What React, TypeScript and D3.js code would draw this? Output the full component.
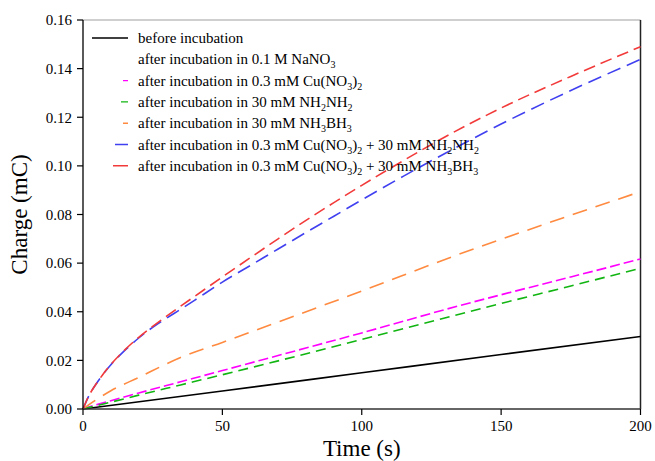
import React from "react";
import * as d3 from "d3";

const W = 655;
const H = 461;
const margin = { left: 83, right: 14, top: 20, bottom: 52 };

const xTicks = [0, 50, 100, 150, 200];
const yTicks = [0, 0.02, 0.04, 0.06, 0.08, 0.1, 0.12, 0.14, 0.16];

const tBlack = [0, 50, 100, 150, 200];
const vBlack = [0, 0.0074, 0.0149, 0.0224, 0.0298];

const tPink = [0, 2, 5, 10, 20, 35, 50, 70, 100, 135, 150, 175, 200];
const vPink = [0, 0.0008, 0.0018, 0.0034, 0.0066, 0.0112, 0.0158, 0.022, 0.0313, 0.0425, 0.047, 0.0543, 0.0617];

const tGreen = [0, 2, 5, 10, 20, 35, 50, 70, 100, 135, 150, 175, 200];
const vGreen = [0, 0.0006, 0.0014, 0.0028, 0.0057, 0.0099, 0.0141, 0.0198, 0.0286, 0.039, 0.0434, 0.0506, 0.0579];

const tOrange = [0, 2, 5, 10, 20, 35, 50, 70, 100, 135, 150, 175, 200];
const vOrange = [0, 0.0017, 0.004, 0.0075, 0.013, 0.0212, 0.0274, 0.0358, 0.0485, 0.0637, 0.0698, 0.0797, 0.0894];

const tBlue = [0, 2, 5, 7, 10, 15, 20, 25, 30, 35, 40, 50, 60, 70, 80, 90, 100, 115, 130, 150, 175, 200];
const vBlue = [0, 0.0052, 0.0108, 0.014, 0.0182, 0.0241, 0.0292, 0.0336, 0.0374, 0.041, 0.0447, 0.0522, 0.059, 0.0658, 0.0726, 0.0793, 0.086, 0.0958, 0.1052, 0.1172, 0.131, 0.1438];

const tRed = [0, 2, 5, 7, 10, 15, 20, 25, 30, 35, 40, 50, 60, 70, 80, 90, 100, 115, 130, 150, 175, 200];
const vRed = [0, 0.0052, 0.0108, 0.014, 0.0183, 0.0243, 0.0295, 0.034, 0.0382, 0.0423, 0.0463, 0.0543, 0.0622, 0.07, 0.0776, 0.0849, 0.092, 0.1022, 0.112, 0.1238, 0.1368, 0.149];

type Seg = { text: string; sub?: boolean };

const series = [
  { t: tBlack, v: vBlack, color: "#000000", dash: "none", sample: 36, label: [{ text: "before incubation" }] as Seg[] },
  { t: [] as number[], v: [] as number[], color: "none", dash: "none", sample: 0, label: [{ text: "after incubation in 0.1 M NaNO" }, { text: "3", sub: true }] as Seg[] },
  { t: tPink, v: vPink, color: "#ff00ff", dash: "10,4", sample: 5, label: [{ text: "after incubation in 0.3 mM Cu(NO" }, { text: "3", sub: true }, { text: ")" }, { text: "2", sub: true }] as Seg[] },
  { t: tGreen, v: vGreen, color: "#11b511", dash: "10,6", sample: 7, label: [{ text: "after incubation in 30 mM NH" }, { text: "2", sub: true }, { text: "NH" }, { text: "2", sub: true }] as Seg[] },
  { t: tOrange, v: vOrange, color: "#ff8a40", dash: "15,9", sample: 5, label: [{ text: "after incubation in 30 mM NH" }, { text: "3", sub: true }, { text: "BH" }, { text: "3", sub: true }] as Seg[] },
  { t: tBlue, v: vBlue, color: "#4040f0", dash: "14,7", sample: 13, label: [{ text: "after incubation in 0.3 mM Cu(NO" }, { text: "3", sub: true }, { text: ")" }, { text: "2", sub: true }, { text: " + 30 mM NH" }, { text: "2", sub: true }, { text: "NH" }, { text: "2", sub: true }] as Seg[] },
  { t: tRed, v: vRed, color: "#f23a3a", dash: "12,6", sample: 15, label: [{ text: "after incubation in 0.3 mM Cu(NO" }, { text: "3", sub: true }, { text: ")" }, { text: "2", sub: true }, { text: " + 30 mM NH" }, { text: "3", sub: true }, { text: "BH" }, { text: "3", sub: true }] as Seg[] },
];

const FONT = "Liberation Serif";

export default function App() {
  const x = d3.scaleLinear().domain([0, 200]).range([margin.left, W - margin.right - 0.5]);
  const y = d3.scaleLinear().domain([0, 0.16]).range([H - margin.bottom, margin.top]);
  const line = d3
    .line<[number, number]>()
    .x((d) => x(d[0]))
    .y((d) => y(d[1]))
    .curve(d3.curveMonotoneX);

  const x0 = x(0);
  const x1 = x(200);
  const y0 = y(0);
  const y1 = y(0.16);

  const legX0 = 92;
  const legX1 = 128;
  const legTextX = 138;
  const legY0 = 38;
  const legDy = 21.3;

  return (
    <svg width={W} height={H} style={{ position: "absolute", left: 0, top: 0 }}>
      <rect x={0} y={0} width={W} height={H} fill="#fff" />
      <line x1={x0} x2={x1} y1={y1} y2={y1} stroke="#a0a0a0" strokeWidth={1.2} />
      <line x1={x1} x2={x1} y1={y1} y2={y0} stroke="#222" strokeWidth={1.5} />

      {series.map((s, i) =>
        s.t.length ? (
          <path
            key={i}
            d={line(s.t.map((t, j) => [t, s.v[j]] as [number, number])) || ""}
            fill="none"
            stroke={s.color}
            strokeWidth={1.6}
            strokeDasharray={s.dash}
          />
        ) : null
      )}

      <line x1={x0} x2={x0} y1={y1} y2={y0} stroke="#000" strokeWidth={1.3} />
      <line x1={x0} x2={x1} y1={y0} y2={y0} stroke="#333" strokeWidth={1.5} />
      {yTicks.map((t) => (
        <g key={t}>
          <line x1={x0 - 6} x2={x0} y1={y(t)} y2={y(t)} stroke="#000" strokeWidth={1.2} />
          <text x={x0 - 11} y={y(t)} dy="0.35em" textAnchor="end" fontFamily={FONT} fontSize={15}>
            {d3.format(".2f")(t)}
          </text>
        </g>
      ))}
      {xTicks.map((t) => (
        <g key={t}>
          <line x1={x(t)} x2={x(t)} y1={y0} y2={y0 + 6} stroke="#000" strokeWidth={1.2} />
          <text x={x(t)} y={y0 + 22} textAnchor="middle" fontFamily={FONT} fontSize={15}>
            {t}
          </text>
        </g>
      ))}
      <text x={(x0 + x1) / 2} y={H - 5} textAnchor="middle" fontFamily={FONT} fontSize={23}>
        Time (s)
      </text>
      <text
        transform={`translate(27, ${(y0 + y1) / 2}) rotate(-90)`}
        textAnchor="middle"
        fontFamily={FONT}
        fontSize={23}
      >
        Charge (mC)
      </text>

      {series.map((s, i) => {
        const cy = legY0 + i * legDy;
        const L = legX1 - legX0;
        return (
          <g key={"l" + i}>
            {s.sample > 0 ? (
              <line
                x1={legX0}
                x2={legX1}
                y1={cy}
                y2={cy}
                stroke={s.color}
                strokeWidth={1.4}
                strokeDasharray={s.sample >= L ? "none" : `0,${L - s.sample},${s.sample},100`}
              />
            ) : null}
            <text x={legTextX} y={cy + 5} fontFamily={FONT} fontSize={15}>
              {s.label.map((seg, k) =>
                seg.sub ? (
                  <tspan key={k} fontSize={10} dy={4}>
                    {seg.text}
                  </tspan>
                ) : (
                  <tspan key={k} dy={k > 0 && s.label[k - 1].sub ? -4 : 0}>
                    {seg.text}
                  </tspan>
                )
              )}
            </text>
          </g>
        );
      })}
    </svg>
  );
}
